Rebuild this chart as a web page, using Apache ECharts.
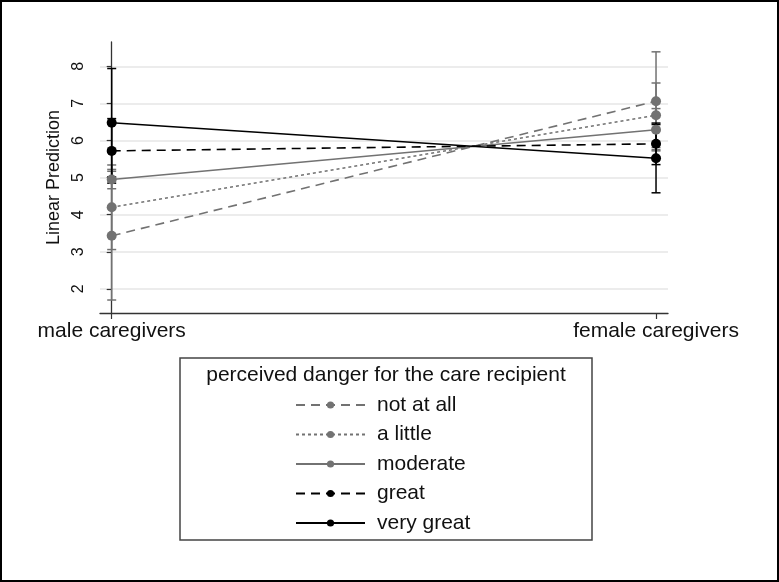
<!DOCTYPE html>
<html>
<head>
<meta charset="utf-8">
<script src="https://cdn.jsdelivr.net/npm/echarts@6/dist/echarts.min.js"></script>
<style>
html,body{margin:0;padding:0;background:#fff;}
#chart{width:779px;height:582px;}
</style>
</head>
<body>
<div id="chart"></div>
<script>
// ---- data ----
var categories = ['male caregivers', 'female caregivers'];
var levelNames = ['not at all', 'a little', 'moderate', 'great', 'very great'];
var yTicks = [2, 3, 4, 5, 6, 7, 8];

var notAtAll  = [3.43, 7.06];
var aLittle   = [4.20, 6.68];
var moderate  = [4.95, 6.29];
var great     = [5.72, 5.91];
var veryGreat = [6.48, 5.52];

var notAtAllLo  = [1.70, 5.75], notAtAllHi  = [5.17, 8.39];
var aLittleLo   = [3.06, 5.81], aLittleHi   = [5.34, 7.55];
var moderateLo  = [4.70, 5.72], moderateHi  = [5.22, 6.86];
var greatLo     = [4.85, 5.35], greatHi     = [6.59, 6.47];
var veryGreatLo = [5.02, 4.59], veryGreatHi = [7.94, 6.43];

var legendTitle = 'perceived danger for the care recipient';
var yName = 'Linear Prediction';

// ---- styling ----
var GRAY = '#727272', BLACK = '#000000';
var FONT = 'Liberation Sans, Arial, sans-serif';
var levels = [
  {name: levelNames[0], v: notAtAll,  lo: notAtAllLo,  hi: notAtAllHi,  color: GRAY,  type: [9, 6]},
  {name: levelNames[1], v: aLittle,   lo: aLittleLo,   hi: aLittleHi,   color: GRAY,  type: [3, 3]},
  {name: levelNames[2], v: moderate,  lo: moderateLo,  hi: moderateHi,  color: GRAY,  type: 'solid'},
  {name: levelNames[3], v: great,     lo: greatLo,     hi: greatHi,     color: BLACK, type: [9, 6]},
  {name: levelNames[4], v: veryGreat, lo: veryGreatLo, hi: veryGreatHi, color: BLACK, type: 'solid'}
];

var series = [];
levels.forEach(function (L, i) {
  series.push({
    type: 'custom',
    name: L.name + ' CI',
    z: 1 + i * 0.01,
    silent: true,
    data: categories.map(function (c, k) { return [k, L.lo[k], L.hi[k]]; }),
    renderItem: (function (col) {
      return function (params, api) {
        var x = api.value(0);
        var p1 = api.coord([x, api.value(1)]);
        var p2 = api.coord([x, api.value(2)]);
        var w = 4.5;
        var st = {stroke: col, lineWidth: 1.5};
        return {type: 'group', children: [
          {type: 'line', shape: {x1: p1[0], y1: p1[1], x2: p2[0], y2: p2[1]}, style: st},
          {type: 'line', shape: {x1: p1[0] - w, y1: p1[1], x2: p1[0] + w, y2: p1[1]}, style: st},
          {type: 'line', shape: {x1: p2[0] - w, y1: p2[1], x2: p2[0] + w, y2: p2[1]}, style: st}
        ]};
      };
    })(L.color)
  });
});
levels.forEach(function (L, i) {
  series.push({
    type: 'line',
    name: L.name,
    z: 3 + i * 0.01,
    data: categories.map(function (c, k) { return [k, L.v[k]]; }),
    symbol: 'circle',
    symbolSize: 10,
    color: L.color,
    itemStyle: {color: L.color},
    lineStyle: {color: L.color, width: 1.6, type: L.type},
    animation: false
  });
});

var chart = echarts.init(document.getElementById('chart'), null, {renderer: 'canvas'});
chart.setOption({
  animation: false,
  backgroundColor: '#fff',
  textStyle: {fontFamily: FONT, color: '#111'},
  grid: {left: 100, right: 111, top: 42, bottom: 269, containLabel: false},
  xAxis: {
    type: 'value',
    min: -0.0215,
    max: 1.022,
    axisLine: {show: true, lineStyle: {color: '#333', width: 1.3}},
    axisTick: {show: true, length: 6, customValues: [0, 1], lineStyle: {color: '#333', width: 1.2}},
    axisLabel: {
      customValues: [0, 1],
      margin: 8,
      fontSize: 21,
      color: '#111',
      fontFamily: FONT,
      formatter: function (v) { return categories[Math.round(v)]; }
    },
    splitLine: {show: false}
  },
  yAxis: {
    type: 'value',
    min: 1.35,
    max: 8.655,
    name: yName,
    nameLocation: 'middle',
    nameGap: 34,
    nameTextStyle: {fontSize: 18, color: '#111', fontFamily: FONT},
    axisLine: {show: true, lineStyle: {color: '#333', width: 1.3}},
    axisTick: {show: true, length: 5, customValues: yTicks, lineStyle: {color: '#333', width: 1.2}},
    axisLabel: {customValues: yTicks, rotate: 90, margin: 13, fontSize: 16, color: '#111', fontFamily: FONT},
    splitLine: {show: true, lineStyle: {color: '#e6e6e6', width: 1.5}}
  },
  title: {
    text: legendTitle,
    left: 386,
    top: 365,
    textAlign: 'center',
    padding: 0,
    textStyle: {fontSize: 21, fontWeight: 'normal', color: '#111', fontFamily: FONT}
  },
  legend: {
    orient: 'vertical',
    left: 295,
    top: 394,
    padding: 0,
    itemWidth: 69,
    itemHeight: 9,
    itemGap: 7.5,
    data: levelNames,
    selectedMode: false,
    textStyle: {fontSize: 21, color: '#111', fontFamily: FONT, lineHeight: 22, padding: [0, 0, 0, 7]}
  },
  graphic: [
    {type: 'rect', shape: {x: 180, y: 358, width: 412, height: 182}, style: {fill: 'none', stroke: '#444', lineWidth: 1.5}, silent: true},
    {type: 'rect', shape: {x: 1, y: 1, width: 777, height: 580}, style: {fill: 'none', stroke: '#000', lineWidth: 2}, silent: true}
  ],
  series: series
});
</script>
</body>
</html>
